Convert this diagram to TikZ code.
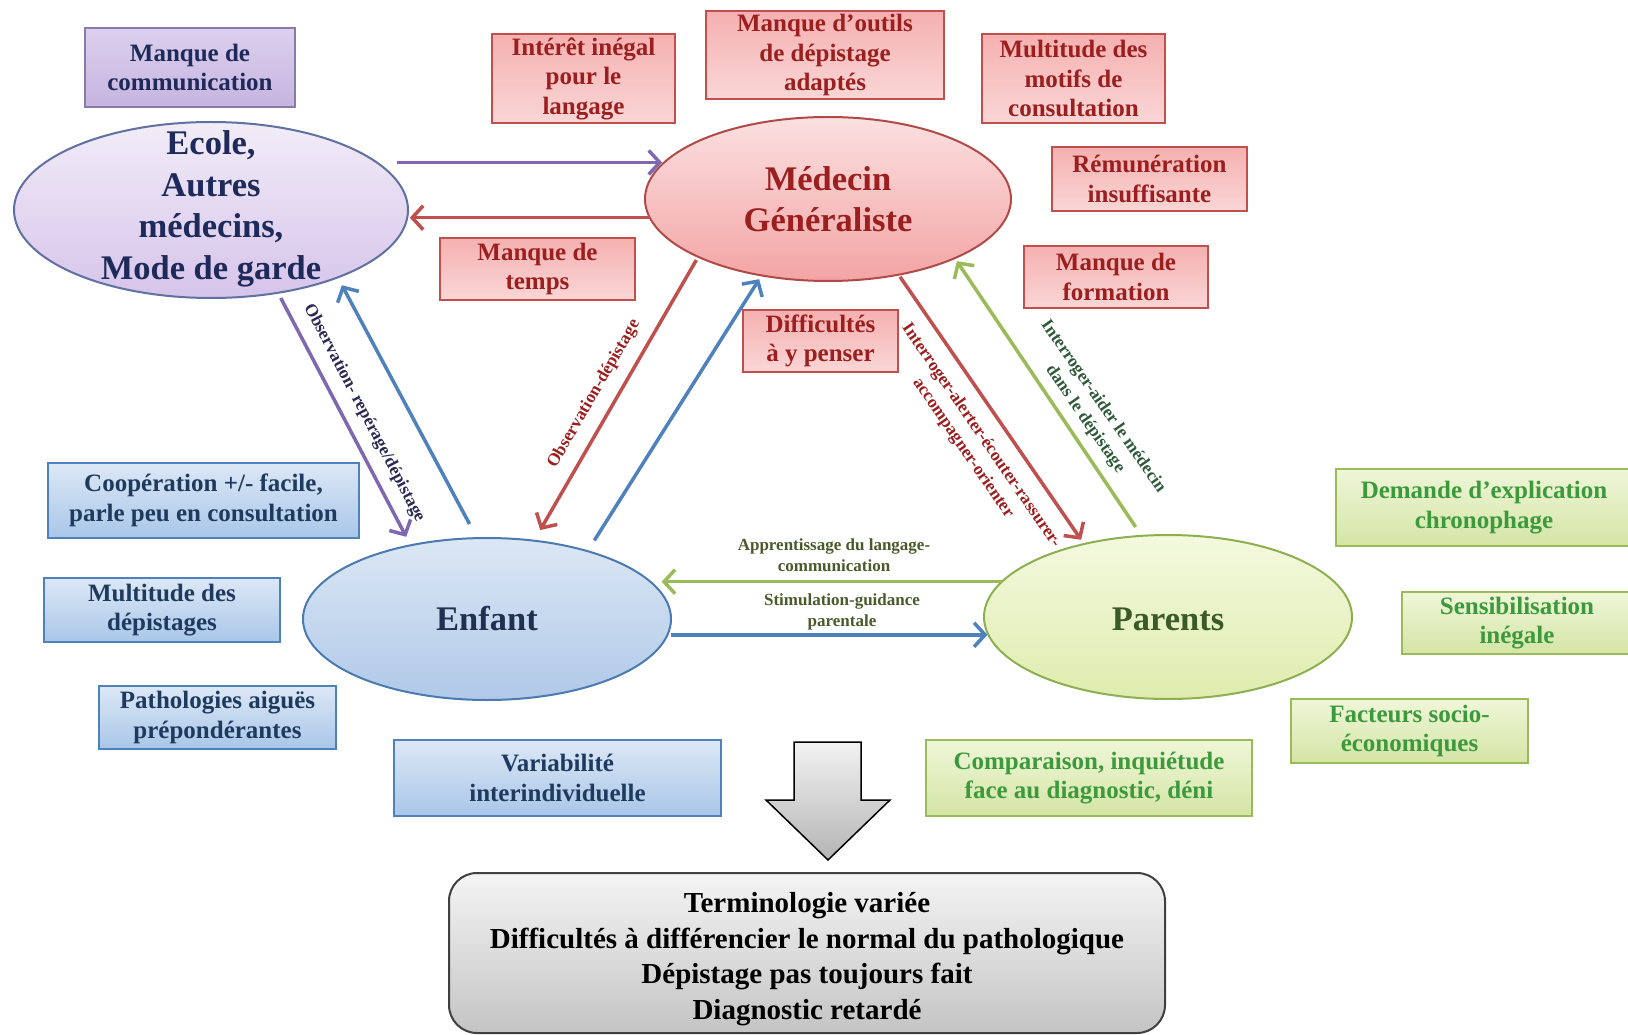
\documentclass[tikz,border=0pt]{standalone}
\usepackage{fontspec}
\setmainfont{Liberation Serif}
\usetikzlibrary{arrows.meta,shapes.geometric}
\definecolor{navytxt}{HTML}{1D2A5A}
\definecolor{redtxt}{HTML}{9C1F1F}
\definecolor{bluetxt}{HTML}{1F3A5F}
\definecolor{greentxt}{HTML}{3C9A3C}
\definecolor{parentstxt}{HTML}{3A5A28}
\definecolor{enfanttxt}{HTML}{1F3050}
\definecolor{obstxt}{HTML}{2A2A55}
\definecolor{aidertxt}{HTML}{2F5A3A}
\definecolor{purpline}{HTML}{8A7AA8}
\definecolor{redline}{HTML}{C0504D}
\definecolor{blueline}{HTML}{4F81BD}
\definecolor{greenline}{HTML}{9BBB59}
\definecolor{purparrow}{HTML}{7F68B0}
\definecolor{ecoleline}{HTML}{6070A0}
\definecolor{medline}{HTML}{B04A48}
\definecolor{enfline}{HTML}{4A7AB0}
\definecolor{parline}{HTML}{8CB050}
\definecolor{PurpTop}{HTML}{DCD0EE}
\definecolor{PurpBot}{HTML}{C6B4DF}
\definecolor{RedTop}{HTML}{F5B0B0}
\definecolor{RedBot}{HTML}{FAD6D6}
\definecolor{BlueTop}{HTML}{DCE8F6}
\definecolor{BlueBot}{HTML}{A9C6E8}
\definecolor{GreenTop}{HTML}{EFF6D8}
\definecolor{GreenBot}{HTML}{D4E5A6}
\definecolor{EcoleTop}{HTML}{F2ECF8}
\definecolor{EcoleBot}{HTML}{D6C4EA}
\definecolor{MedTop}{HTML}{FBE0E0}
\definecolor{MedBot}{HTML}{F3A4A4}
\definecolor{EnfTop}{HTML}{DBE7F5}
\definecolor{EnfBot}{HTML}{B0C9E8}
\definecolor{ParTop}{HTML}{F4F9DE}
\definecolor{ParBot}{HTML}{DFECAE}
\definecolor{GrayTop}{HTML}{F4F4F4}
\definecolor{GrayBot}{HTML}{C4C4C4}
\definecolor{ArrTop}{HTML}{F2F2F2}
\definecolor{ArrBot}{HTML}{B4B4B4}
\definecolor{resline}{HTML}{404040}
\definecolor{HLbl}{HTML}{4A5A2A}
\begin{document}
\begin{tikzpicture}[x=1pt,y=-1pt,
  box/.style={draw, rectangle, line width=1.6pt, inner sep=1pt, align=center,
    font=\bfseries\fontsize{25}{29.5}\selectfont},
  purplebox/.style={box, draw=purpline, top color=PurpTop, bottom color=PurpBot, text=navytxt},
  redbox/.style={box, draw=redline, top color=RedTop, bottom color=RedBot, text=redtxt},
  bluebox/.style={box, draw=blueline, top color=BlueTop, bottom color=BlueBot, text=bluetxt},
  greenbox/.style={box, draw=greenline, top color=GreenTop, bottom color=GreenBot, text=greentxt},
  ell/.style={ellipse, line width=2pt, inner sep=0pt, outer sep=0pt},
  elltext/.style={align=center, font=\bfseries\fontsize{34.5}{41.5}\selectfont},
  arr/.style={line width=3.5pt, -{Straight Barb[length=11pt,width=24pt]}},
  lbl/.style={align=center, inner sep=1pt, font=\bfseries\fontsize{17.5}{22}\selectfont},
  hlbl/.style={align=center, inner sep=1pt, font=\bfseries\fontsize{17}{21}\selectfont, text=HLbl}
]
\useasboundingbox[fill=white] (0,0) rectangle (1628,1035);

% ellipses
\node[ell, draw=ecoleline, top color=EcoleTop, bottom color=EcoleBot,
  minimum width=394pt, minimum height=176pt] (ecole) at (211,210) {};
\node[ell, draw=medline, top color=MedTop, bottom color=MedBot,
  minimum width=366pt, minimum height=164pt] (medecin) at (828,199) {};
\node[ell, draw=enfline, top color=EnfTop, bottom color=EnfBot,
  minimum width=368pt, minimum height=162pt] (enfant) at (487,619) {};
\node[ell, draw=parline, top color=ParTop, bottom color=ParBot,
  minimum width=368pt, minimum height=164pt] (parents) at (1168,617) {};

\node[elltext, text=navytxt] (ecoleT) at (211,209) {Ecole,\\Autres\\médecins,\\Mode de garde};
\node[elltext, text=redtxt] (medecinT) at (828,199) {Médecin\\Généraliste};
\node[elltext, text=enfanttxt] (enfantT) at (487,619) {Enfant};
\node[elltext, text=parentstxt] (parentsT) at (1168,619) {Parents};

% boxes
\node[purplebox, minimum width=210pt, minimum height=79pt] (comm) at (190,67.5) {Manque de\\communication};
\node[redbox, minimum width=183pt, minimum height=89pt] (interet) at (583.5,78.5) {Intérêt inégal\\pour le\\langage};
\node[redbox, minimum width=238pt, minimum height=88pt] (outils) at (825,55) {Manque d’outils\\de dépistage\\adaptés};
\node[redbox, minimum width=183pt, minimum height=89pt] (motifs) at (1073.5,78.5) {Multitude des\\motifs de\\consultation};
\node[redbox, minimum width=195pt, minimum height=64pt] (remun) at (1149.5,179) {Rémunération\\insuffisante};
\node[redbox, minimum width=184pt, minimum height=62pt] (formation) at (1116,277) {Manque de\\formation};
\node[redbox, minimum width=195pt, minimum height=62pt] (temps) at (537.5,269) {Manque de\\temps};
\node[redbox, minimum width=155pt, minimum height=62pt] (penser) at (820.5,341) {Difficultés\\à y penser};
\node[bluebox, minimum width=311pt, minimum height=75pt] (coop) at (203.5,500.5) {Coopération +/- facile,\\parle peu en consultation};
\node[bluebox, minimum width=236pt, minimum height=64pt] (mdep) at (162,610) {Multitude des\\dépistages};
\node[bluebox, minimum width=237pt, minimum height=63pt] (patho) at (217.5,717.5) {Pathologies aiguës\\prépondérantes};
\node[bluebox, minimum width=327pt, minimum height=76pt] (variab) at (557.5,778) {Variabilité\\interindividuelle};
\node[greenbox, minimum width=326pt, minimum height=76pt] (compar) at (1089,778) {Comparaison, inquiétude\\face au diagnostic, déni};
\node[greenbox, minimum width=237pt, minimum height=64pt] (facteurs) at (1409.5,731) {Facteurs socio-\\économiques};
\node[greenbox, minimum width=230pt, minimum height=62pt] (sensib) at (1517,623) {Sensibilisation\\inégale};
\node[greenbox, minimum width=296pt, minimum height=77pt] (demande) at (1484,507.5) {Demande d’explication\\chronophage};

% arrows
\draw[arr, draw=purparrow, shorten <=20pt, shorten >=6pt] (ecole.16.67) -- (ecole.16.67 -| medecin.166.8);
\draw[arr, draw=redline, shorten >=2pt] (medecin.-174.9) -- (medecin.-174.9 -| ecole.-1.46);
\draw[arr, draw=purparrow, shorten <=6pt, shorten >=9.6pt] (ecole.-51.3) -- (enfant.136.55);
\draw[arr, draw=blueline, shorten <=16pt, shorten >=8.9pt] (enfant.97.3) -- (ecole.-28.6);
\draw[arr, draw=redline, shorten <=3.7pt, shorten >=12.3pt] (medecin.-156) -- (enfant.59.1);
\draw[arr, draw=blueline, shorten <=12.7pt, shorten >=4.5pt] (enfant.34) -- (medecin.-131.4);
\draw[arr, draw=redline, shorten <=2.6pt, shorten >=5.2pt] (medecin.-47.5) -- (parents.139.5);
\draw[arr, draw=greenline, shorten <=10.7pt, shorten >=3.7pt] (parents.108.4) -- (medecin.-25.6);
\draw[arr, draw=greenline, shorten >=9pt] (parents.168.1) -- (parents.168.1 -| enfant.12.7);
\draw[arr, draw=blueline, shorten <=3.6pt] (enfant.-5.07) -- (enfant.-5.07 -| parents.185.7);

% arrow labels
\node[lbl, text=obstxt, rotate=-62.4] (lobs1) at (364,413) {Observation- repérage/dépistage};
\node[lbl, text=redtxt, rotate=60] (lobs2) at (594,394) {Observation-dépistage};
\node[lbl, text=redtxt, rotate=-55.5] (linter) at (972,442) {Interroger-alerter-écouter-rassurer-\\accompagner-orienter};
\node[lbl, text=aidertxt, rotate=-55.2] (laider) at (1094,413) {Interroger-aider le médecin\\dans le dépistage};
\node[hlbl] (lappr) at (834,555) {Apprentissage du langage-\\communication};
\node[hlbl] (lstim) at (842,612) {Stimulation-guidance\\parentale};

% big down arrow
\path[draw=black, line width=1.5pt, top color=ArrTop, bottom color=ArrBot]
  (794,742) -- (861,742) -- (861,800) -- (890,800) -- (828,860) -- (766,800) -- (794,800) -- cycle;

% bottom box
\node[draw=resline, line width=2pt, rounded corners=28pt, top color=GrayTop, bottom color=GrayBot,
  minimum width=716pt, minimum height=160pt] (result) at (807,953) {};
\node[align=center, font=\bfseries\fontsize{29}{35.5}\selectfont] (resultT) at (807,959)
  {Terminologie variée\\Difficultés à différencier le normal du pathologique\\Dépistage pas toujours fait\\Diagnostic retardé};
\end{tikzpicture}
\end{document}
